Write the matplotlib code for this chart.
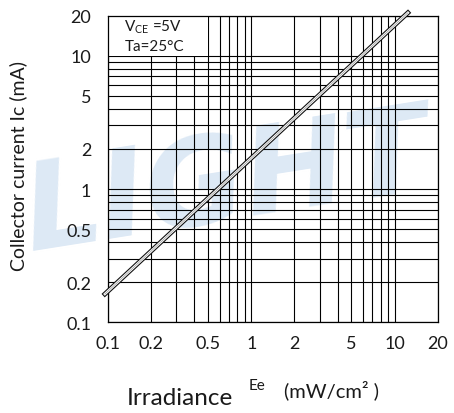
import matplotlib
matplotlib.use('Agg')
import matplotlib.pyplot as plt
import matplotlib.patheffects as pe
from matplotlib.patches import Rectangle
from matplotlib.ticker import FixedLocator, NullFormatter

# Relative collector current vs irradiance
ee = [0.095, 12.4]          # irradiance, mW/cm^2
ic = [0.163, 21.0]          # collector current, mA

x_labels = [0.1, 0.2, 0.5, 1, 2, 5, 10, 20]
y_labels = [0.1, 0.2, 0.5, 1, 2, 5, 10, 20]
x_grid = [0.3, 0.4, 0.6, 0.7, 0.8, 0.9, 3, 4, 6, 7, 8, 9]
y_grid = [0.3, 0.4, 0.6, 0.7, 0.8, 0.9, 3, 4, 6, 7, 8, 9]

font = ['Lato', 'DejaVu Sans']
txt = '#1a1a1a'


def fmt(v):
    return f'{v:g}'


def main():
    fig = plt.figure(figsize=(4.54, 4.14), dpi=100)

    # faint watermark behind everything
    fig.text(0.50, 0.55, 'LIGHT', fontsize=88, fontweight='heavy', style='italic',
             color='#dde9f5', ha='center', va='center', rotation=9,
             family='DejaVu Sans', zorder=-5)

    ax = fig.add_axes([0.238, 0.219, 0.726, 0.741])
    ax.set_zorder(1)
    ax.set_facecolor('none')
    ax.set_xscale('log')
    ax.set_yscale('log')
    ax.set_xlim(0.1, 20)
    ax.set_ylim(0.1, 20)

    ax.xaxis.set_major_locator(FixedLocator(x_labels))
    ax.yaxis.set_major_locator(FixedLocator(y_labels))
    ax.xaxis.set_minor_locator(FixedLocator(x_grid))
    ax.yaxis.set_minor_locator(FixedLocator(y_grid))
    ax.xaxis.set_minor_formatter(NullFormatter())
    ax.yaxis.set_minor_formatter(NullFormatter())
    ax.set_xticklabels([fmt(v) for v in x_labels])
    ax.set_yticklabels([fmt(v) for v in y_labels])
    ax.tick_params(which='both', length=0, labelsize=13, labelcolor=txt)
    ax.tick_params(axis='x', pad=9)
    ax.tick_params(axis='y', pad=12)
    for lab in ax.get_xticklabels() + ax.get_yticklabels():
        lab.set_family(font)

    ax.grid(True, which='both', color='black', linewidth=0.8)
    ax.set_axisbelow(True)
    for s in ax.spines.values():
        s.set_linewidth(0.9)

    # white panel for the conditions note
    ax.add_patch(Rectangle((0.1, 10), 0.4, 10, facecolor='white', edgecolor='none', zorder=1.5))
    ax.text(0.13, 16.6, r'V$_{\mathregular{CE}}$ =5V', fontsize=11, color=txt,
            family=font, va='center', zorder=3)
    ax.text(0.13, 11.9, 'Ta=25°C', fontsize=11, color=txt,
            family=font, va='center', zorder=3)

    ax.plot(ee, ic, color='#999999', linewidth=0.5, clip_on=False, zorder=4,
            path_effects=[pe.Stroke(linewidth=3.4, foreground='#111111'),
                          pe.Stroke(linewidth=1.8, foreground='white'),
                          pe.Normal()])

    fig.text(0.040, 0.60, 'Collector current Ic (mA)', rotation=90, fontsize=14,
             color=txt, family=font, ha='center', va='center')
    fig.text(0.28, 0.022, 'Irradiance', fontsize=17.5, color=txt, family=font,
             ha='left', va='baseline')
    fig.text(0.547, 0.058, 'Ee', fontsize=11, color=txt, family=font,
             ha='left', va='baseline')
    fig.text(0.626, 0.04, '(mW/cm² )', fontsize=14.5, color=txt, family=font,
             ha='left', va='baseline')

    fig.savefig('out.png', dpi=100)


if __name__ == "__main__":
    main()
